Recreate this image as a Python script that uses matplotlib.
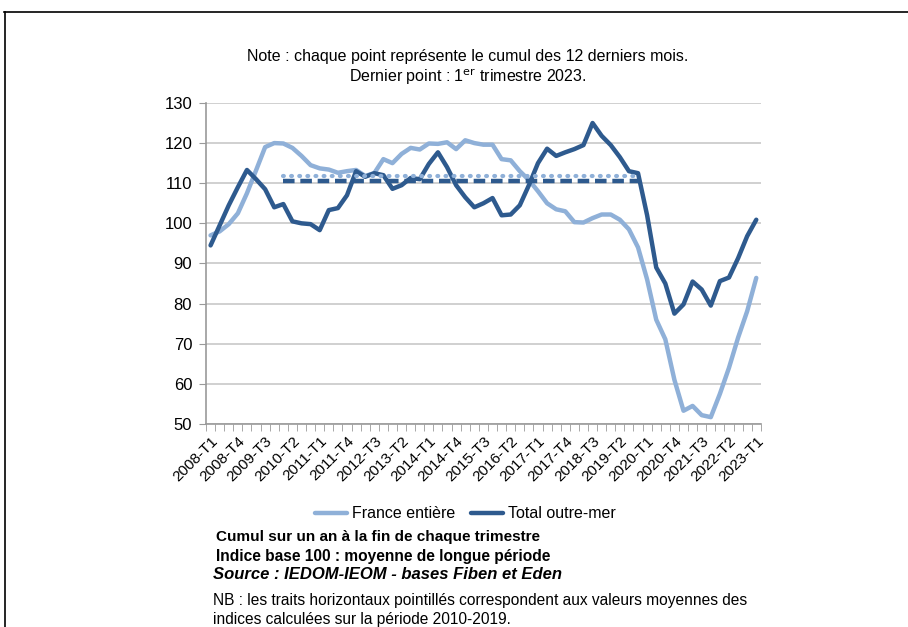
import matplotlib
matplotlib.use("Agg")
import matplotlib.pyplot as plt
from matplotlib.lines import Line2D

plt.rcParams["font.family"] = ["Liberation Sans", "DejaVu Sans"]

# quarterly points, 2008-T1 .. 2023-T1
quarters = [f"{y}-T{q}" for y in range(2008, 2024) for q in range(1, 5)][:61]
france = [97, 98, 99.8, 102.5, 107.5, 113.2, 119, 120, 119.9, 118.8,
          116.8, 114.5, 113.7, 113.4, 112.6, 113, 113.3, 111.8, 112.5, 116,
          115, 117.3, 118.8, 118.4, 119.9, 119.8, 120.2, 118.5, 120.7, 120,
          119.6, 119.6, 116, 115.7, 113, 110.8, 108, 105, 103.5, 103,
          100.3, 100.2, 101.3, 102.2, 102.2, 100.9, 98.5, 94, 86, 76,
          71.1, 61, 53.3, 54.5, 52.2, 51.7, 57.5, 64, 71.5, 78.1, 86.4]
outremer = [94.5, 99.5, 104.5, 109, 113.3, 111, 108.5, 104, 104.8, 100.5,
            100, 99.8, 98.3, 103.3, 103.8, 107, 113, 111.6, 112.5, 112,
            108.6, 109.5, 111.3, 111, 114.8, 117.7, 114, 109.5, 106.5, 104,
            105, 106.3, 102, 102.2, 104.5, 109.5, 115, 118.6, 116.8, 117.7,
            118.5, 119.5, 125, 121.8, 119.5, 116.5, 113, 112.5, 102, 89,
            85, 77.5, 79.8, 85.5, 83.5, 79.5, 85.6, 86.5, 91.3, 96.8, 100.9]
# 2010-2019 averages
mean_france = 111.9
mean_outremer = 110.5
mean_start, mean_end = "2010-T1", "2019-T4"
tick_labels = quarters[::3]

LIGHT = "#8fb0d8"
DARK = "#2e5a8e"

fig = plt.figure(figsize=(9.08, 6.27), dpi=100)
ax = fig.add_axes([0.2269, 0.3238, 0.611, 0.512])

x = list(range(len(quarters)))
ax.plot(x, france, color=LIGHT, lw=3.2, solid_joinstyle="round", solid_capstyle="round", label="France entière")
ax.plot(x, outremer, color=DARK, lw=3.2, solid_joinstyle="round", solid_capstyle="round", label="Total outre-mer")
i0, i1 = quarters.index(mean_start), quarters.index(mean_end)
ax.plot([i0, i1], [mean_france] * 2, color=LIGHT, lw=3, linestyle=(0, (0.2, 1.75)), dash_capstyle="round")
ax.plot([i0, i1], [mean_outremer] * 2, color=DARK, lw=3.2, linestyle=(0, (2.6, 1.3)))

ax.set_xlim(-0.5, len(quarters) - 0.5)
ax.set_ylim(50, 130)
ax.set_yticks(range(50, 131, 10))
ax.set_yticklabels([str(v) for v in range(50, 131, 10)], fontsize=12)
ax.grid(axis="y", color="#c8c8c8", lw=1.2)
ax.set_axisbelow(True)
ax.set_xticks(x[::3])
ax.set_xticklabels(tick_labels, rotation=45, ha="right", rotation_mode="anchor", fontsize=11)
ax.set_xticks([i - 0.5 for i in range(len(quarters) + 1)], minor=True)
ax.tick_params(axis="x", which="major", length=0, pad=7)
ax.tick_params(axis="x", which="minor", length=5, color="#999999", direction="out")
ax.tick_params(axis="y", length=5, color="#999999", pad=5)
for s in ("top", "right"):
    ax.spines[s].set_visible(False)
for s in ("left", "bottom"):
    ax.spines[s].set_color("#999999")
    ax.spines[s].set_linewidth(1.2)

ax.legend(loc="upper center", bbox_to_anchor=(0.467, -0.212), ncol=2, frameon=False, fontsize=11.5,
          handlelength=2.0, columnspacing=1.0, handletextpad=0.3)

fig.text(0.515, 0.902, "Note : chaque point représente le cumul des 12 derniers mois.", ha="center", fontsize=11.5)
fig.text(0.515, 0.870, r"Dernier point : 1$^{\mathrm{er}}$ trimestre 2023.", ha="center", fontsize=11.5)

fig.text(0.238, 0.137, "Cumul sur un an à la fin de chaque trimestre", fontsize=11, fontweight="bold")
fig.text(0.238, 0.106, "Indice base 100 : moyenne de longue période", fontsize=11.2, fontweight="bold")
fig.text(0.235, 0.076, "Source : IEDOM-IEOM - bases Fiben et Eden", fontsize=12, fontweight="bold", style="italic")
fig.text(0.235, 0.035, "NB : les traits horizontaux pointillés correspondent aux valeurs moyennes des", fontsize=11.2)
fig.text(0.235, 0.005, "indices calculées sur la période 2010-2019.", fontsize=11.2)

# page frame
fig.add_artist(Line2D([0.004, 1.0], [0.981, 0.981], color="black", lw=1.2, transform=fig.transFigure))
fig.add_artist(Line2D([0.0055, 0.0055], [0.0, 0.981], color="black", lw=1.2, transform=fig.transFigure))

fig.savefig("out.png", dpi=100)
